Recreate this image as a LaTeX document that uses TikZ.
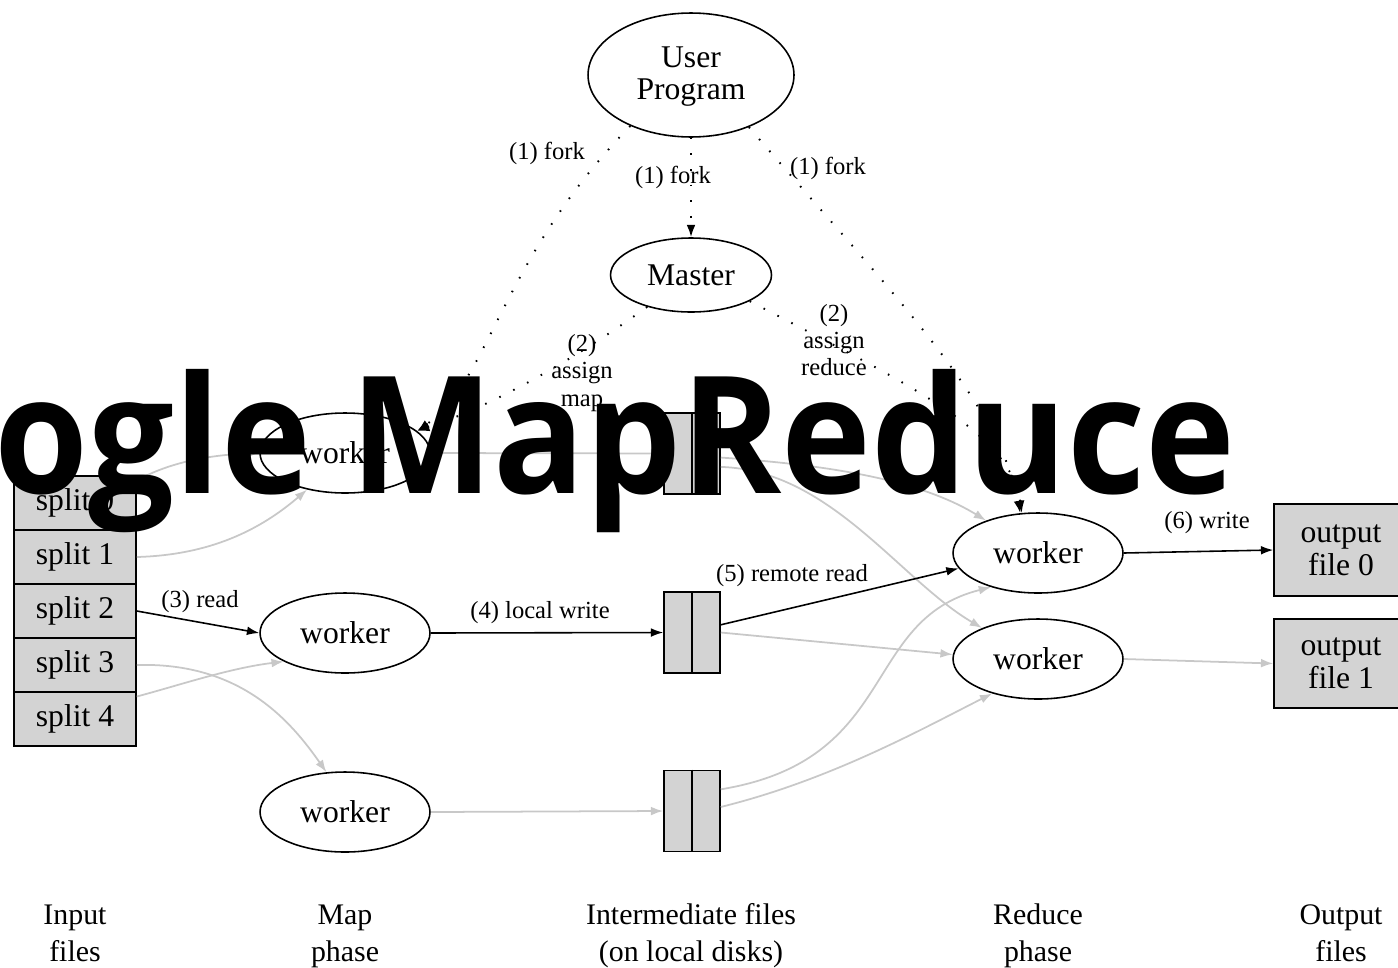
\documentclass[tikz,border=0pt]{standalone}
\usepackage{fontspec}
\setmainfont{Liberation Serif}
\newfontfamily\titlefont{Open Sans}[FakeStretch=0.93]
\usetikzlibrary{arrows.meta,shapes.geometric}
\definecolor{lgray}{HTML}{C8C8C8}
\definecolor{boxfill}{HTML}{D3D3D3}
\begin{document}
\begin{tikzpicture}[x=0.02cm,y=-0.02cm,
  ell/.style={draw, ellipse, line width=0.9pt, inner sep=0pt, align=center, font=\fontsize{18}{19}\selectfont},
  wk/.style={ell, minimum width=3.4cm, minimum height=1.6cm},
  splitbox/.style={draw, fill=boxfill, line width=0.9pt, minimum width=2.44cm, minimum height=1.08cm, inner sep=0pt, font=\fontsize{18}{19}\selectfont},
  imbox/.style={draw, fill=boxfill, line width=0.9pt, minimum width=1.12cm, minimum height=1.62cm, inner sep=0pt},
  outbox/.style={draw, fill=boxfill, line width=0.9pt, minimum width=2.68cm, inner sep=0pt, align=center, font=\fontsize{18}{19}\selectfont},
  lbl/.style={inner sep=0pt, align=center, font=\fontsize{14}{15.5}\selectfont},
  phase/.style={inner sep=0pt, align=center, font=\fontsize{17}{21}\selectfont},
  arr/.style={-{Latex[length=7pt,width=5pt]}},
  blk/.style={arr, line width=0.9pt, black},
  gry/.style={arr, line width=1pt, lgray},
  dots/.style={arr, line width=1.1pt, dash pattern=on 0.9pt off 8pt, black},
]
\useasboundingbox (0,0) rectangle (1398,967);

% nodes
\node[ell, minimum width=4.12cm, minimum height=2.48cm] (up) at (691,75) {\raisebox{-5.3pt}[0pt][0pt]{\begin{tabular}{@{}c@{}}User\\[-1pt]Program\end{tabular}}};
\node[ell, minimum width=3.22cm, minimum height=1.48cm] (master) at (691,275) {Master};

\node[wk] (mw1) at (345,453) {worker};
\node[wk] (mw2) at (345,633) {worker};
\node[wk] (mw3) at (345,812) {worker};
\node[wk] (rw1) at (1038,553) {worker};
\node[wk] (rw2) at (1038,659) {worker};

\node[splitbox] (s0) at (75,503) {split 0};
\node[splitbox] (s1) at (75,557) {split 1};
\node[splitbox] (s2) at (75,611) {split 2};
\node[splitbox] (s3) at (75,665) {split 3};
\node[splitbox] (s4) at (75,719) {split 4};

\node[imbox] (im1) at (692,453.5) {};
\node[imbox] (im2) at (692,632.5) {};
\node[imbox] (im3) at (692,811) {};
\foreach \b in {im1,im2,im3} \draw[line width=0.9pt] (\b.north) -- (\b.south);

\node[outbox, minimum height=1.84cm] (o0) at (1341,550) {output\\file 0};
\node[outbox, minimum height=1.78cm] (o1) at (1341,663.5) {output\\file 1};

% labels
\node[lbl] (l1a) at (547,153) {(1) fork};
\node[lbl] (l1b) at (673,177) {(1) fork};
\node[lbl] (l1c) at (828,168) {(1) fork};
\node[lbl] (l2a) at (582,373) {(2)\\assign\\map};
\node[lbl] (l2b) at (834,340) {(2)\\assign\\reduce};
\node[lbl] (l3) at (200,602) {(3) read};
\node[lbl] (l4) at (540,613) {(4) local write};
\node[lbl] (l5) at (792,576) {(5) remote read};
\node[lbl] (l6) at (1207,523) {(6) write};

\node[phase] (p1) at (75,936) {Input\strut\\files\strut};
\node[phase] (p2) at (345,936) {Map\strut\\phase\strut};
\node[phase] (p3) at (691,936) {Intermediate files\strut\\(on local disks)\strut};
\node[phase] (p4) at (1038,936) {Reduce\strut\\phase\strut};
\node[phase] (p5) at (1341,936) {Output\strut\\files\strut};

% dotted control edges
\draw[dots] (up.270) -- (master.90);
\draw[dots] (up.220) .. controls (500,260) and (490,380) .. (mw1.17);
\draw[dots] (master.216) .. controls (560,370) and (480,410) .. (mw1.17);
\draw[dots] (up.318) .. controls (880,280) and (1000,400) .. (rw1.114);
\draw[dots] (master.336) .. controls (900,380) and (1010,430) .. (rw1.112);

% gray data edges
\draw[gry] (s0.20) .. controls (170,462) and (210,455) .. (mw1.180);
\draw[gry] (s1.east) .. controls (210,555) and (260,530) .. (mw1.224);
\draw[gry] (s3.east) .. controls (240,662) and (290,720) .. (mw3.115);
\draw[gry] (s4.20) .. controls (180,685) and (230,668) .. (mw2.205);
\draw[gry] (mw1.east) -- (im1.west);
\draw[gry] (mw3.east) -- (im3.west);
\draw[gry] (im1.-8) .. controls (830,465) and (920,480) .. (rw1.148);
\draw[gry] (im1.-25) .. controls (830,470) and (900,580) .. (rw2.151);
\draw[gry] (im2.east) -- (rw2.177);
\draw[gry] (im3.37) .. controls (900,760) and (860,620) .. (rw1.216);
\draw[gry] (im3.8) .. controls (830,780) and (920,730) .. (rw2.217);
\draw[gry] (rw2.east) -- (o1.west);

% black data edges
\draw[blk] (s2.east) -- (mw2.180);
\draw[blk] (mw2.east) -- (im2.west);
\draw[blk] (im2.15) -- (rw1.191);
\draw[blk] (rw1.east) -- (o0.west);

% overlay title
\node[anchor=base east, inner sep=0pt, font=\titlefont\bfseries\fontsize{93}{100}\selectfont] (title) at (1236,493) {Google MapReduce};
\end{tikzpicture}
\end{document}
